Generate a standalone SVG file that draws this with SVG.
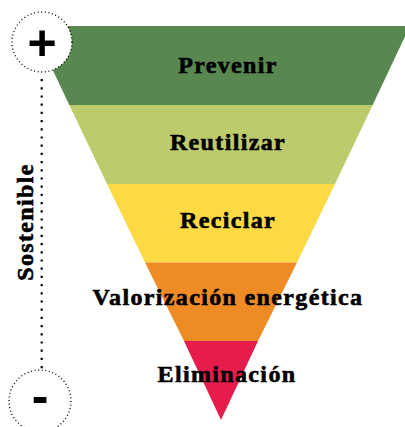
<svg xmlns="http://www.w3.org/2000/svg" width="405" height="427" viewBox="0 0 405 427">
<style>
.lbl{font-family:"Liberation Serif","Times New Roman",serif;font-weight:bold;font-size:24px;letter-spacing:1.35px;fill:#000;stroke:#000;stroke-width:0.6;text-anchor:middle}
.sym{font-family:"Liberation Sans",Arial,sans-serif;font-weight:bold;font-size:50px;fill:#000;text-anchor:middle}
.ring{fill:#fff;stroke:#000;stroke-width:1.3;stroke-dasharray:1 2.6}
</style>
<rect width="405" height="427" fill="#fff"/>
<g id="pyramid">
<g id="prevenir"><polygon points="32,26 410,26 372.7,105 69.3,105" fill="#58874f"/><text class="lbl" x="228" y="73">Prevenir</text></g>
<g id="reutilizar"><polygon points="69.3,105 372.7,105 335,184 107,184" fill="#bdcb6c"/><text class="lbl" x="228" y="150">Reutilizar</text></g>
<g id="reciclar"><polygon points="107,184 335,184 297,262.5 145,262.5" fill="#fdd944"/><text class="lbl" x="228" y="228">Reciclar</text></g>
<g id="valorizacion"><polygon points="145,262.5 297,262.5 258,341 184,341" fill="#ef8b24"/><text class="lbl" x="228" y="305">Valorización energética</text></g>
<g id="eliminacion"><polygon points="184,341 258,341 221,420" fill="#e51c4c"/><text class="lbl" x="227" y="382">Eliminación</text></g>
</g>
<g id="connectors">
<line x1="41.7" y1="79" x2="41.7" y2="370" stroke="#000" stroke-width="2.2" stroke-dasharray="2.2 6" />
</g>
<g id="plus"><circle class="ring" cx="42" cy="42" r="30"/><text class="sym" x="42" y="60">+</text></g>
<g id="minus"><circle class="ring" cx="40" cy="401" r="31"/><text class="sym" x="40" y="413">-</text></g>
<g id="sostenible"><text class="lbl" transform="translate(33,222) rotate(-90)" x="0" y="0">Sostenible</text></g>
</svg>
